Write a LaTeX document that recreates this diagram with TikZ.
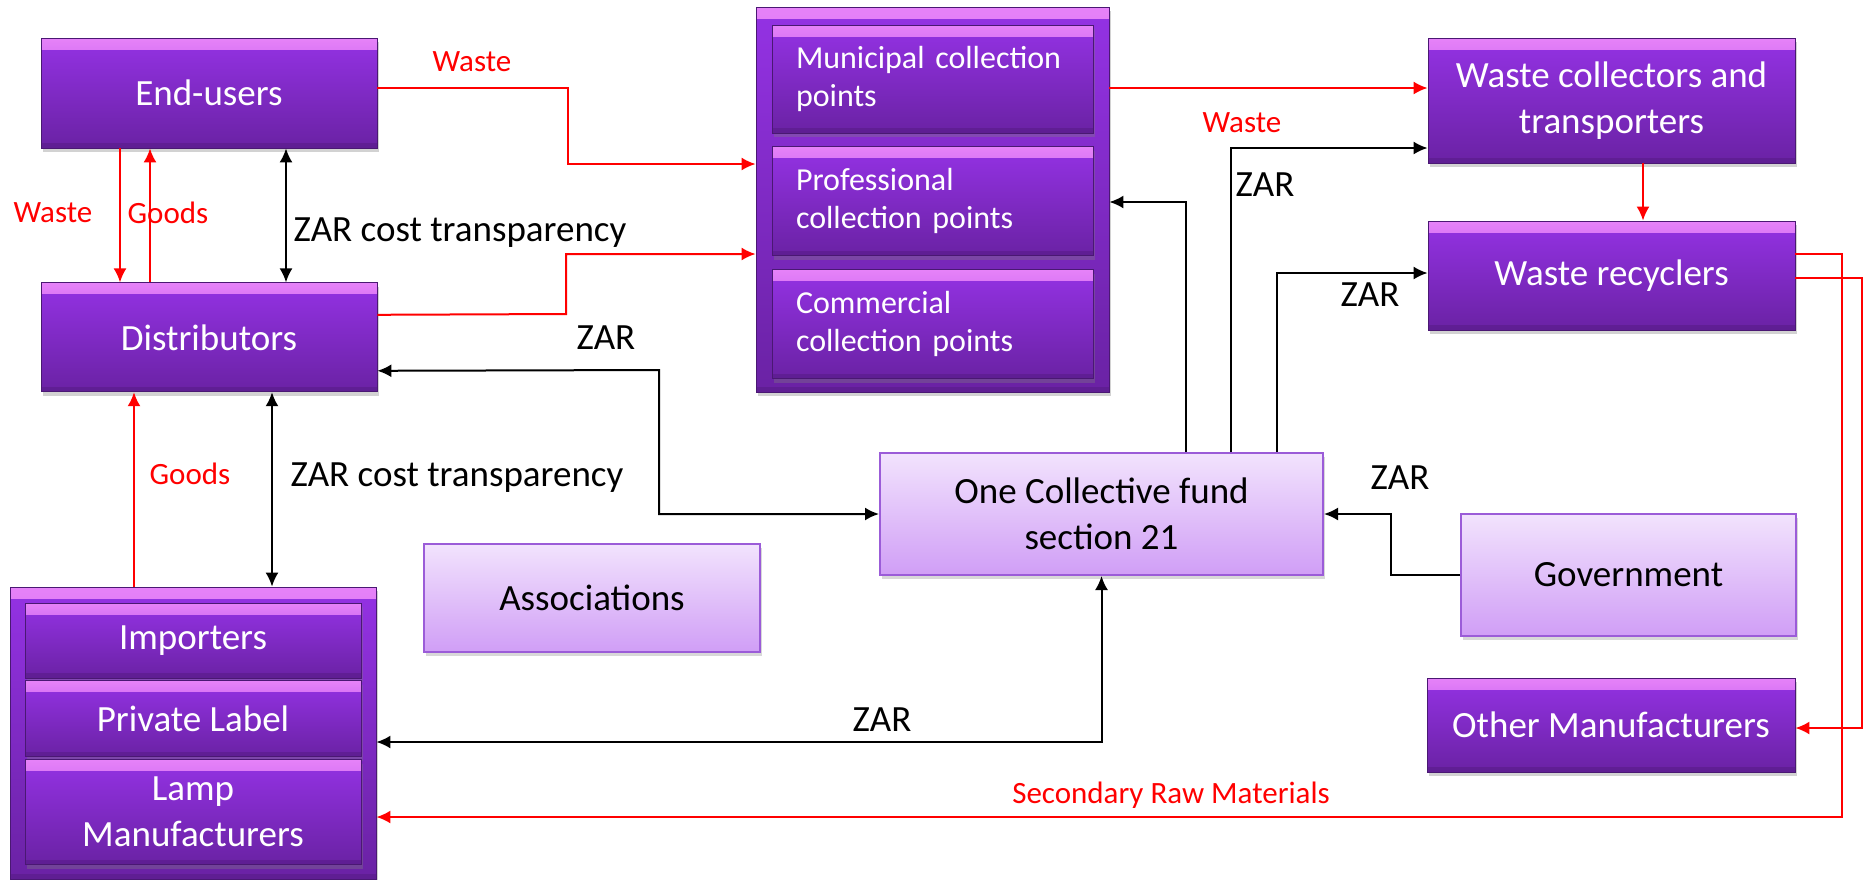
\documentclass[tikz,border=0pt]{standalone}
\usepackage{fontspec}
\setmainfont{Carlito}
\usetikzlibrary{positioning,arrows.meta,shadows}
\definecolor{violettop}{HTML}{9432E4}
\definecolor{violetbot}{HTML}{6A22A4}
\definecolor{violetband}{HTML}{E682F8}
\definecolor{liltop}{HTML}{F2E3FD}
\definecolor{lilbot}{HTML}{D09EF6}
\definecolor{lilline}{HTML}{9B5CD8}

\begin{document}
\begin{tikzpicture}[x=1pt,y=-1pt]
\tikzstyle{main}=[rectangle, top color=violettop, bottom color=violetbot, draw=violetbot!70!black, line width=0.8pt, text=white, align=center, font=\fontsize{37}{46}\selectfont, drop shadow={opacity=0.35, shadow xshift=2pt, shadow yshift=-4pt}, path picture={\shade[top color=violetband, bottom color=violettop] (path picture bounding box.north west) rectangle ([yshift=-11pt]path picture bounding box.north east); \fill[violetbot!80!black, opacity=0.5] (path picture bounding box.south west) rectangle ([yshift=5pt]path picture bounding box.south east);}]
\tikzstyle{sub}=[main, font=\fontsize{32}{38}\selectfont, align=left, inner xsep=24pt, text width=273pt]
\tikzstyle{light}=[rectangle, top color=liltop, bottom color=lilbot, draw=lilline, line width=2pt, align=center, font=\fontsize{37}{46}\selectfont, drop shadow={opacity=0.3, shadow xshift=2pt, shadow yshift=-4pt}]
\tikzstyle{connect}=[-{Latex[length=14pt,width=13pt]}, line width=2pt]
\tikzstyle{both}=[{Latex[length=14pt,width=13pt]}-{Latex[length=14pt,width=13pt]}, line width=2pt]
\tikzstyle{flow}=[connect, red]
\tikzstyle{zar}=[inner sep=0pt, font=\fontsize{37}{46}\selectfont]
\tikzstyle{redlabel}=[inner sep=0pt, text=red, font=\fontsize{31}{38}\selectfont]
  \path[fill=white] (0,0) rectangle (1864,879);
  \useasboundingbox (0,0) rectangle (1864,879);
  % actors on the left
  \node[main, minimum width=336pt, minimum height=110pt] (eu) at (209,93) {End-users};
  \node[main, minimum width=336pt, minimum height=109pt] (dist) [below=134pt of eu] {Distributors};
  \node[main, minimum width=366pt, minimum height=292pt] (imp) at (193,733) {};
  \node[main, minimum width=336pt, minimum height=75pt] (impo) at (193,640.5) {Importers};
  \node[main, minimum width=336pt, minimum height=76pt] (priv) [below=2pt of impo] {Private Label};
  \node[main, minimum width=336pt, minimum height=105pt] (lamp) [below=2pt of priv] {Lamp\\Manufacturers};
  % collection points
  \node[main, minimum width=353pt, minimum height=385pt] (coll) at (932.5,199.5) {};
  \node[sub, minimum height=108pt] (mun) at (932.5,79) {Municipal collection\\points};
  \node[sub, minimum height=109pt] (prof) [below=13pt of mun] {Professional\\collection points};
  \node[sub, minimum height=109pt] (com) [below=13pt of prof] {Commercial\\collection points};
  % right side
  \node[main, minimum width=367pt, minimum height=125pt] (col) at (1611.5,100.5) {Waste collectors and\\transporters};
  \node[main, minimum width=367pt, minimum height=109pt] (rec) at (1611.5,275.5) {Waste recyclers};
  \node[main, minimum width=368pt, minimum height=94pt] (oth) at (1611,725) {Other Manufacturers};
  \node[light, minimum width=443pt, minimum height=122pt] (fund) at (1101.5,514) {One Collective fund\\section 21};
  \node[light, minimum width=335pt, minimum height=122pt] (gov) at (1628.5,575) {Government};
  \node[light, minimum width=336pt, minimum height=108pt] (asso) at (592,598) {Associations};
  % goods and waste
  \draw[flow] (120,0 |- eu.south) -- (120,0 |- dist.north);
  \draw[flow] (150,0 |- dist.north) -- (150,0 |- eu.south);
  \draw[both] (286,0 |- eu.south) -- (286,0 |- dist.north);
  \draw[flow] (134,0 |- imp.north) -- (134,0 |- dist.south);
  \draw[both] (272,0 |- imp.north) -- (272,0 |- dist.south);
  \draw[flow] ([yshift=5pt]eu.east) -- (568,88) -- (568,164) -- (coll.west |- 0,164);
  \draw[flow] ([yshift=22.5pt]dist.east) -- (566,314) -- (566,254) -- (coll.west |- 0,254);
  \draw[flow] (coll.east |- 0,88) -- (col.west |- 0,88);
  \draw[flow] (1643,0 |- col.south) -- (1643,0 |- rec.north);
  \draw[flow] ([yshift=21.5pt]rec.east) -- (1842,254) -- (1842,817) -- (imp.east |- 0,817);
  \draw[flow] ([yshift=-2.5pt]rec.east) -- (1862,278) -- (1862,728) -- (oth.east |- 0,728);
  % money
  \draw[connect] (1186,0 |- fund.north) |- (coll.east |- 0,202);
  \draw[connect] (1231,0 |- fund.north) |- (col.west |- 0,148);
  \draw[connect] (1277,0 |- fund.north) |- (rec.west |- 0,273);
  \draw[both] ([yshift=-33.5pt]dist.east) -- (659,370) |- (fund.west);
  \draw[connect] (gov.west) -- (1391,575) |- (fund.east);
  \draw[both] (fund.south) |- (imp.east |- 0,742);
  % labels
  \node[redlabel] (lw1) at (472,62) {Waste};
  \node[redlabel] (lw2) at (53,213) {Waste};
  \node[redlabel] (lg1) at (168,213) {Goods};
  \node[redlabel] (lg2) at (190,474) {Goods};
  \node[redlabel] (lw3) at (1242,123) {Waste};
  \node[redlabel] (lsec) at (1171,795) {Secondary Raw Materials};
  \node[zar] (lcost1) at (460,233) {ZAR cost transparency};
  \node[zar] (lcost2) at (457,478) {ZAR cost transparency};
  \node[zar] (lz1) at (606,338) {ZAR};
  \node[zar] (lz2) at (1265,185) {ZAR};
  \node[zar] (lz3) at (1370,295) {ZAR};
  \node[zar] (lz4) at (1400,478) {ZAR};
  \node[zar] (lz5) at (882,720) {ZAR};
\end{tikzpicture}
\end{document}
